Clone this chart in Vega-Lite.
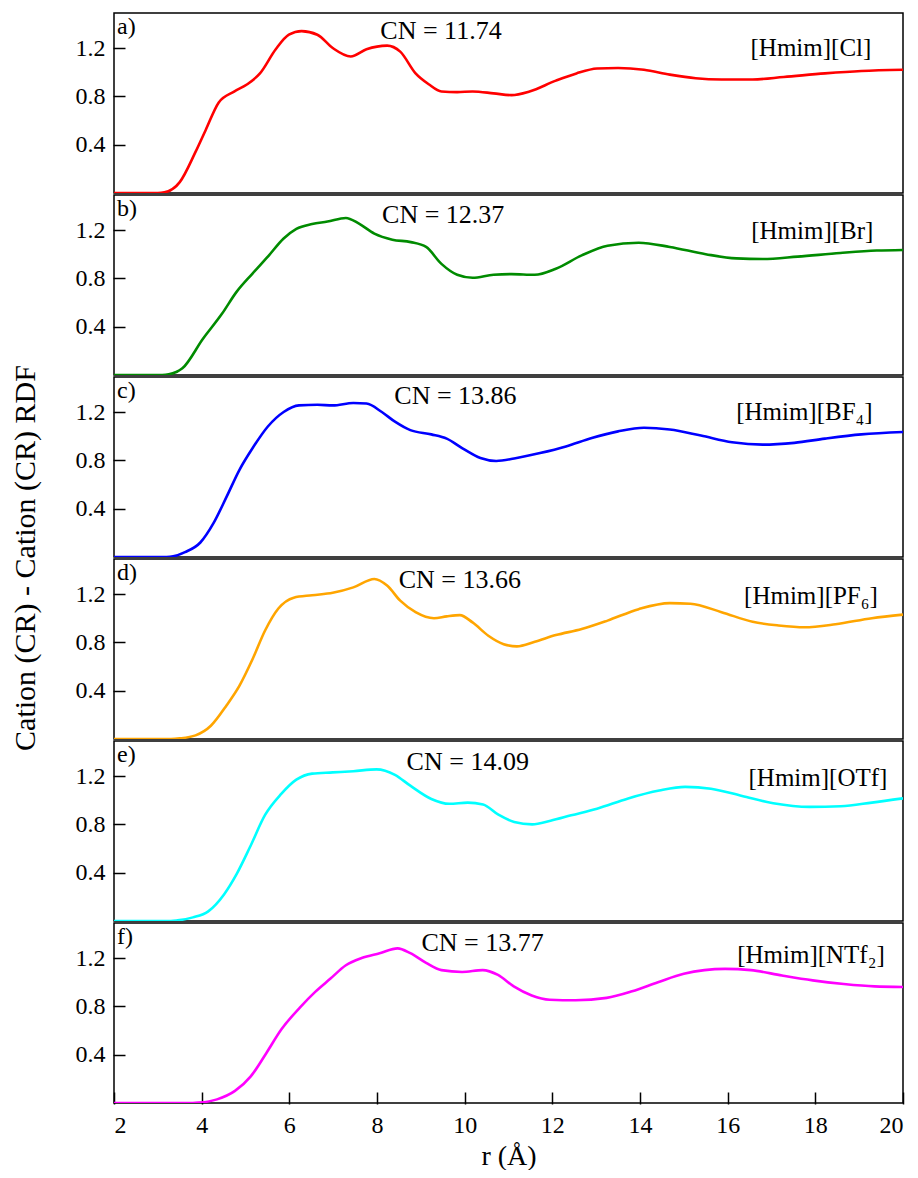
{
  "$schema": "https://vega.github.io/schema/vega-lite/v6.json",
  "padding": {"left": 10, "top": 12, "right": 8, "bottom": 0},
  "background": "white",
  "data": {"values": [
    {"p":"a","r":2,"g":0},{"p":"a","r":3.0,"g":0},{"p":"a","r":3.15,"g":0.005},{"p":"a","r":3.5,"g":0.09},{"p":"a","r":3.86,"g":0.34},{"p":"a","r":4.09,"g":0.52},{"p":"a","r":4.39,"g":0.75},{"p":"a","r":4.74,"g":0.84},{"p":"a","r":5.04,"g":0.9},{"p":"a","r":5.33,"g":0.99},{"p":"a","r":5.69,"g":1.19},{"p":"a","r":5.99,"g":1.31},{"p":"a","r":6.28,"g":1.34},{"p":"a","r":6.64,"g":1.31},{"p":"a","r":6.99,"g":1.2},{"p":"a","r":7.4,"g":1.13},{"p":"a","r":7.76,"g":1.19},{"p":"a","r":8.23,"g":1.22},{"p":"a","r":8.53,"g":1.17},{"p":"a","r":8.88,"g":0.99},{"p":"a","r":9.18,"g":0.9},{"p":"a","r":9.47,"g":0.84},{"p":"a","r":9.83,"g":0.835},{"p":"a","r":10.18,"g":0.84},{"p":"a","r":10.66,"g":0.825},{"p":"a","r":11.07,"g":0.81},{"p":"a","r":11.48,"g":0.84},{"p":"a","r":12.08,"g":0.93},{"p":"a","r":12.55,"g":0.99},{"p":"a","r":13.02,"g":1.03},{"p":"a","r":13.5,"g":1.035},{"p":"a","r":14.09,"g":1.02},{"p":"a","r":14.68,"g":0.98},{"p":"a","r":15.27,"g":0.95},{"p":"a","r":15.86,"g":0.94},{"p":"a","r":16.57,"g":0.94},{"p":"a","r":17.28,"g":0.96},{"p":"a","r":18.22,"g":0.99},{"p":"a","r":19.05,"g":1.01},{"p":"a","r":20,"g":1.02},
    {"p":"b","r":2,"g":0},{"p":"b","r":3.1,"g":0},{"p":"b","r":3.25,"g":0.005},{"p":"b","r":3.56,"g":0.055},{"p":"b","r":4.03,"g":0.3},{"p":"b","r":4.45,"g":0.5},{"p":"b","r":4.8,"g":0.69},{"p":"b","r":5.16,"g":0.84},{"p":"b","r":5.51,"g":0.98},{"p":"b","r":5.87,"g":1.13},{"p":"b","r":6.16,"g":1.21},{"p":"b","r":6.52,"g":1.25},{"p":"b","r":6.87,"g":1.27},{"p":"b","r":7.29,"g":1.3},{"p":"b","r":7.58,"g":1.255},{"p":"b","r":7.94,"g":1.17},{"p":"b","r":8.35,"g":1.12},{"p":"b","r":8.77,"g":1.1},{"p":"b","r":9.12,"g":1.06},{"p":"b","r":9.47,"g":0.92},{"p":"b","r":9.83,"g":0.83},{"p":"b","r":10.18,"g":0.805},{"p":"b","r":10.66,"g":0.83},{"p":"b","r":11.07,"g":0.835},{"p":"b","r":11.6,"g":0.83},{"p":"b","r":12.08,"g":0.88},{"p":"b","r":12.67,"g":0.99},{"p":"b","r":13.26,"g":1.07},{"p":"b","r":13.97,"g":1.095},{"p":"b","r":14.68,"g":1.06},{"p":"b","r":15.5,"g":1.0},{"p":"b","r":16.2,"g":0.965},{"p":"b","r":16.8,"g":0.96},{"p":"b","r":17.6,"g":0.98},{"p":"b","r":18.57,"g":1.01},{"p":"b","r":19.4,"g":1.03},{"p":"b","r":20,"g":1.035},
    {"p":"c","r":2,"g":0},{"p":"c","r":3.2,"g":0},{"p":"c","r":3.35,"g":0.005},{"p":"c","r":3.62,"g":0.04},{"p":"c","r":3.97,"g":0.12},{"p":"c","r":4.27,"g":0.28},{"p":"c","r":4.57,"g":0.5},{"p":"c","r":4.86,"g":0.72},{"p":"c","r":5.16,"g":0.9},{"p":"c","r":5.51,"g":1.08},{"p":"c","r":5.87,"g":1.2},{"p":"c","r":6.22,"g":1.255},{"p":"c","r":6.64,"g":1.26},{"p":"c","r":6.99,"g":1.255},{"p":"c","r":7.46,"g":1.275},{"p":"c","r":7.76,"g":1.27},{"p":"c","r":8.11,"g":1.2},{"p":"c","r":8.41,"g":1.12},{"p":"c","r":8.76,"g":1.05},{"p":"c","r":9.24,"g":1.015},{"p":"c","r":9.59,"g":0.98},{"p":"c","r":9.95,"g":0.9},{"p":"c","r":10.36,"g":0.82},{"p":"c","r":10.72,"g":0.795},{"p":"c","r":11.13,"g":0.815},{"p":"c","r":11.72,"g":0.86},{"p":"c","r":12.31,"g":0.915},{"p":"c","r":12.9,"g":0.985},{"p":"c","r":13.5,"g":1.04},{"p":"c","r":14.09,"g":1.07},{"p":"c","r":14.68,"g":1.055},{"p":"c","r":15.39,"g":1.005},{"p":"c","r":16.1,"g":0.95},{"p":"c","r":16.8,"g":0.93},{"p":"c","r":17.52,"g":0.945},{"p":"c","r":18.22,"g":0.98},{"p":"c","r":19.05,"g":1.015},{"p":"c","r":20,"g":1.035},
    {"p":"d","r":2,"g":0},{"p":"d","r":3.3,"g":0},{"p":"d","r":3.5,"g":0.005},{"p":"d","r":3.86,"g":0.03},{"p":"d","r":4.21,"g":0.11},{"p":"d","r":4.57,"g":0.28},{"p":"d","r":4.86,"g":0.44},{"p":"d","r":5.16,"g":0.66},{"p":"d","r":5.45,"g":0.9},{"p":"d","r":5.75,"g":1.08},{"p":"d","r":6.1,"g":1.17},{"p":"d","r":6.52,"g":1.19},{"p":"d","r":6.99,"g":1.21},{"p":"d","r":7.46,"g":1.255},{"p":"d","r":7.94,"g":1.325},{"p":"d","r":8.23,"g":1.27},{"p":"d","r":8.53,"g":1.145},{"p":"d","r":8.88,"g":1.05},{"p":"d","r":9.3,"g":1.0},{"p":"d","r":9.59,"g":1.015},{"p":"d","r":9.89,"g":1.025},{"p":"d","r":10.18,"g":0.965},{"p":"d","r":10.54,"g":0.855},{"p":"d","r":10.89,"g":0.785},{"p":"d","r":11.19,"g":0.767},{"p":"d","r":11.6,"g":0.805},{"p":"d","r":12.08,"g":0.86},{"p":"d","r":12.67,"g":0.91},{"p":"d","r":13.26,"g":0.98},{"p":"d","r":13.97,"g":1.075},{"p":"d","r":14.68,"g":1.125},{"p":"d","r":15.15,"g":1.12},{"p":"d","r":15.86,"g":1.05},{"p":"d","r":16.57,"g":0.97},{"p":"d","r":17.16,"g":0.94},{"p":"d","r":17.75,"g":0.925},{"p":"d","r":18.46,"g":0.95},{"p":"d","r":19.29,"g":1.0},{"p":"d","r":20,"g":1.03},
    {"p":"e","r":2,"g":0},{"p":"e","r":3.3,"g":0},{"p":"e","r":3.45,"g":0.005},{"p":"e","r":3.8,"g":0.03},{"p":"e","r":4.15,"g":0.08},{"p":"e","r":4.51,"g":0.22},{"p":"e","r":4.8,"g":0.39},{"p":"e","r":5.1,"g":0.61},{"p":"e","r":5.45,"g":0.88},{"p":"e","r":5.81,"g":1.05},{"p":"e","r":6.16,"g":1.17},{"p":"e","r":6.52,"g":1.22},{"p":"e","r":6.99,"g":1.23},{"p":"e","r":7.46,"g":1.24},{"p":"e","r":7.99,"g":1.255},{"p":"e","r":8.41,"g":1.21},{"p":"e","r":8.76,"g":1.12},{"p":"e","r":9.24,"g":1.01},{"p":"e","r":9.65,"g":0.97},{"p":"e","r":10.07,"g":0.98},{"p":"e","r":10.42,"g":0.965},{"p":"e","r":10.77,"g":0.88},{"p":"e","r":11.13,"g":0.82},{"p":"e","r":11.54,"g":0.8},{"p":"e","r":11.96,"g":0.83},{"p":"e","r":12.43,"g":0.875},{"p":"e","r":13.02,"g":0.93},{"p":"e","r":13.73,"g":1.015},{"p":"e","r":14.44,"g":1.08},{"p":"e","r":15.03,"g":1.11},{"p":"e","r":15.62,"g":1.095},{"p":"e","r":16.33,"g":1.035},{"p":"e","r":17.04,"g":0.975},{"p":"e","r":17.87,"g":0.945},{"p":"e","r":18.58,"g":0.95},{"p":"e","r":19.29,"g":0.98},{"p":"e","r":20,"g":1.015},
    {"p":"f","r":2,"g":0},{"p":"f","r":3.8,"g":0},{"p":"f","r":3.94,"g":0.003},{"p":"f","r":4.35,"g":0.03},{"p":"f","r":4.76,"g":0.1},{"p":"f","r":5.12,"g":0.22},{"p":"f","r":5.47,"g":0.41},{"p":"f","r":5.82,"g":0.61},{"p":"f","r":6.24,"g":0.79},{"p":"f","r":6.59,"g":0.92},{"p":"f","r":6.94,"g":1.03},{"p":"f","r":7.29,"g":1.14},{"p":"f","r":7.65,"g":1.2},{"p":"f","r":8.06,"g":1.24},{"p":"f","r":8.47,"g":1.28},{"p":"f","r":8.76,"g":1.24},{"p":"f","r":9.12,"g":1.16},{"p":"f","r":9.47,"g":1.1},{"p":"f","r":9.94,"g":1.085},{"p":"f","r":10.41,"g":1.1},{"p":"f","r":10.76,"g":1.06},{"p":"f","r":11.12,"g":0.965},{"p":"f","r":11.53,"g":0.89},{"p":"f","r":11.94,"g":0.855},{"p":"f","r":12.53,"g":0.85},{"p":"f","r":13.24,"g":0.87},{"p":"f","r":13.82,"g":0.925},{"p":"f","r":14.41,"g":1.0},{"p":"f","r":15.0,"g":1.07},{"p":"f","r":15.47,"g":1.1},{"p":"f","r":15.94,"g":1.11},{"p":"f","r":16.53,"g":1.1},{"p":"f","r":17.24,"g":1.055},{"p":"f","r":17.94,"g":1.015},{"p":"f","r":18.65,"g":0.985},{"p":"f","r":19.35,"g":0.965},{"p":"f","r":20,"g":0.96},
    {"p":"a","tag":"a)","cn":"CN = 11.74","cnx":9.46,"cny":1.343,"name":"[Hmim][Cl]","nx":17.9,"ny":1.203},
    {"p":"b","tag":"b)","cn":"CN = 12.37","cnx":9.51,"cny":1.326,"name":"[Hmim][Br]","nx":17.93,"ny":1.195},
    {"p":"c","tag":"c)","cn":"CN = 13.86","cnx":9.79,"cny":1.334,"name":"[Hmim][BF₄]","nx":17.75,"ny":1.203},
    {"p":"d","tag":"d)","cn":"CN = 13.66","cnx":9.89,"cny":1.318,"name":"[Hmim][PF₆]","nx":17.9,"ny":1.187},
    {"p":"e","tag":"e)","cn":"CN = 14.09","cnx":10.07,"cny":1.318,"name":"[Hmim][OTf]","nx":18.06,"ny":1.187},
    {"p":"f","tag":"f)","cn":"CN = 13.77","cnx":10.41,"cny":1.326,"name":"[Hmim][NTf₂]","nx":17.9,"ny":1.228}
  ]},
  "facet": {
    "row": {
      "field": "p", "type": "nominal", "sort": ["a","b","c","d","e","f"],
      "header": {
        "title": "Cation (CR) - Cation (CR) RDF",
        "labels": false,
        "titleFont": "Liberation Serif", "titleFontSize": 30, "titleFontWeight": "normal",
        "titleColor": "black", "titlePadding": 24
      }
    }
  },
  "spacing": 0,
  "spec": {
    "width": 789,
    "height": 180,
    "layer": [
      {
        "transform": [{"filter": "isValid(datum.g)"}],
        "mark": {"type": "line", "interpolate": "monotone", "strokeWidth": 2.6, "clip": true},
        "encoding": {
          "x": {"field": "r", "type": "quantitative",
                "scale": {"domain": [2, 20], "nice": false, "zero": false},
                "axis": {"values": [2,4,6,8,10,12,14,16,18,20], "title": "r (Å)", "tickSize": -12, "labelPadding": 21, "titlePadding": 5, "titleFontSize": 28, "domain": false, "grid": false}},
          "y": {"field": "g", "type": "quantitative",
                "scale": {"domain": [0, 1.49], "nice": false, "zero": false},
                "axis": {"values": [0.4, 0.8, 1.2], "format": ".1f", "title": null, "tickSize": -12, "labelPadding": 20, "domain": false, "grid": false}},
          "color": {"field": "p", "type": "nominal",
                    "scale": {"domain": ["a","b","c","d","e","f"], "range": ["#ff0000","#008b00","#0000ff","#ffa500","#00ffff","#ff00ff"]},
                    "legend": null}
        }
      },
      {
        "transform": [{"filter": "isValid(datum.tag)"}],
        "mark": {"type": "text", "align": "left", "baseline": "middle", "dx": 3, "font": "Liberation Serif", "fontSize": 24, "color": "black"},
        "encoding": {
          "x": {"datum": 2, "type": "quantitative"},
          "y": {"datum": 1.37, "type": "quantitative"},
          "text": {"field": "tag"}
        }
      },
      {
        "transform": [{"filter": "isValid(datum.tag)"}],
        "mark": {"type": "text", "align": "center", "baseline": "middle", "font": "Liberation Serif", "fontSize": 26, "color": "black"},
        "encoding": {
          "x": {"field": "cnx", "type": "quantitative"},
          "y": {"field": "cny", "type": "quantitative"},
          "text": {"field": "cn"}
        }
      },
      {
        "transform": [{"filter": "isValid(datum.tag)"}],
        "mark": {"type": "text", "align": "center", "baseline": "middle", "font": "Liberation Serif", "fontSize": 25, "color": "black"},
        "encoding": {
          "x": {"field": "nx", "type": "quantitative"},
          "y": {"field": "ny", "type": "quantitative"},
          "text": {"field": "name"}
        }
      }
    ]
  },
  "config": {
    "view": {"stroke": "black", "strokeWidth": 1.5},
    "axis": {
      "labelFont": "Liberation Serif", "labelFontSize": 24, "labelColor": "black",
      "titleFont": "Liberation Serif", "titleFontSize": 28, "titleFontWeight": "normal", "titleColor": "black",
      "tickColor": "black", "tickWidth": 1.5
    }
  }
}
